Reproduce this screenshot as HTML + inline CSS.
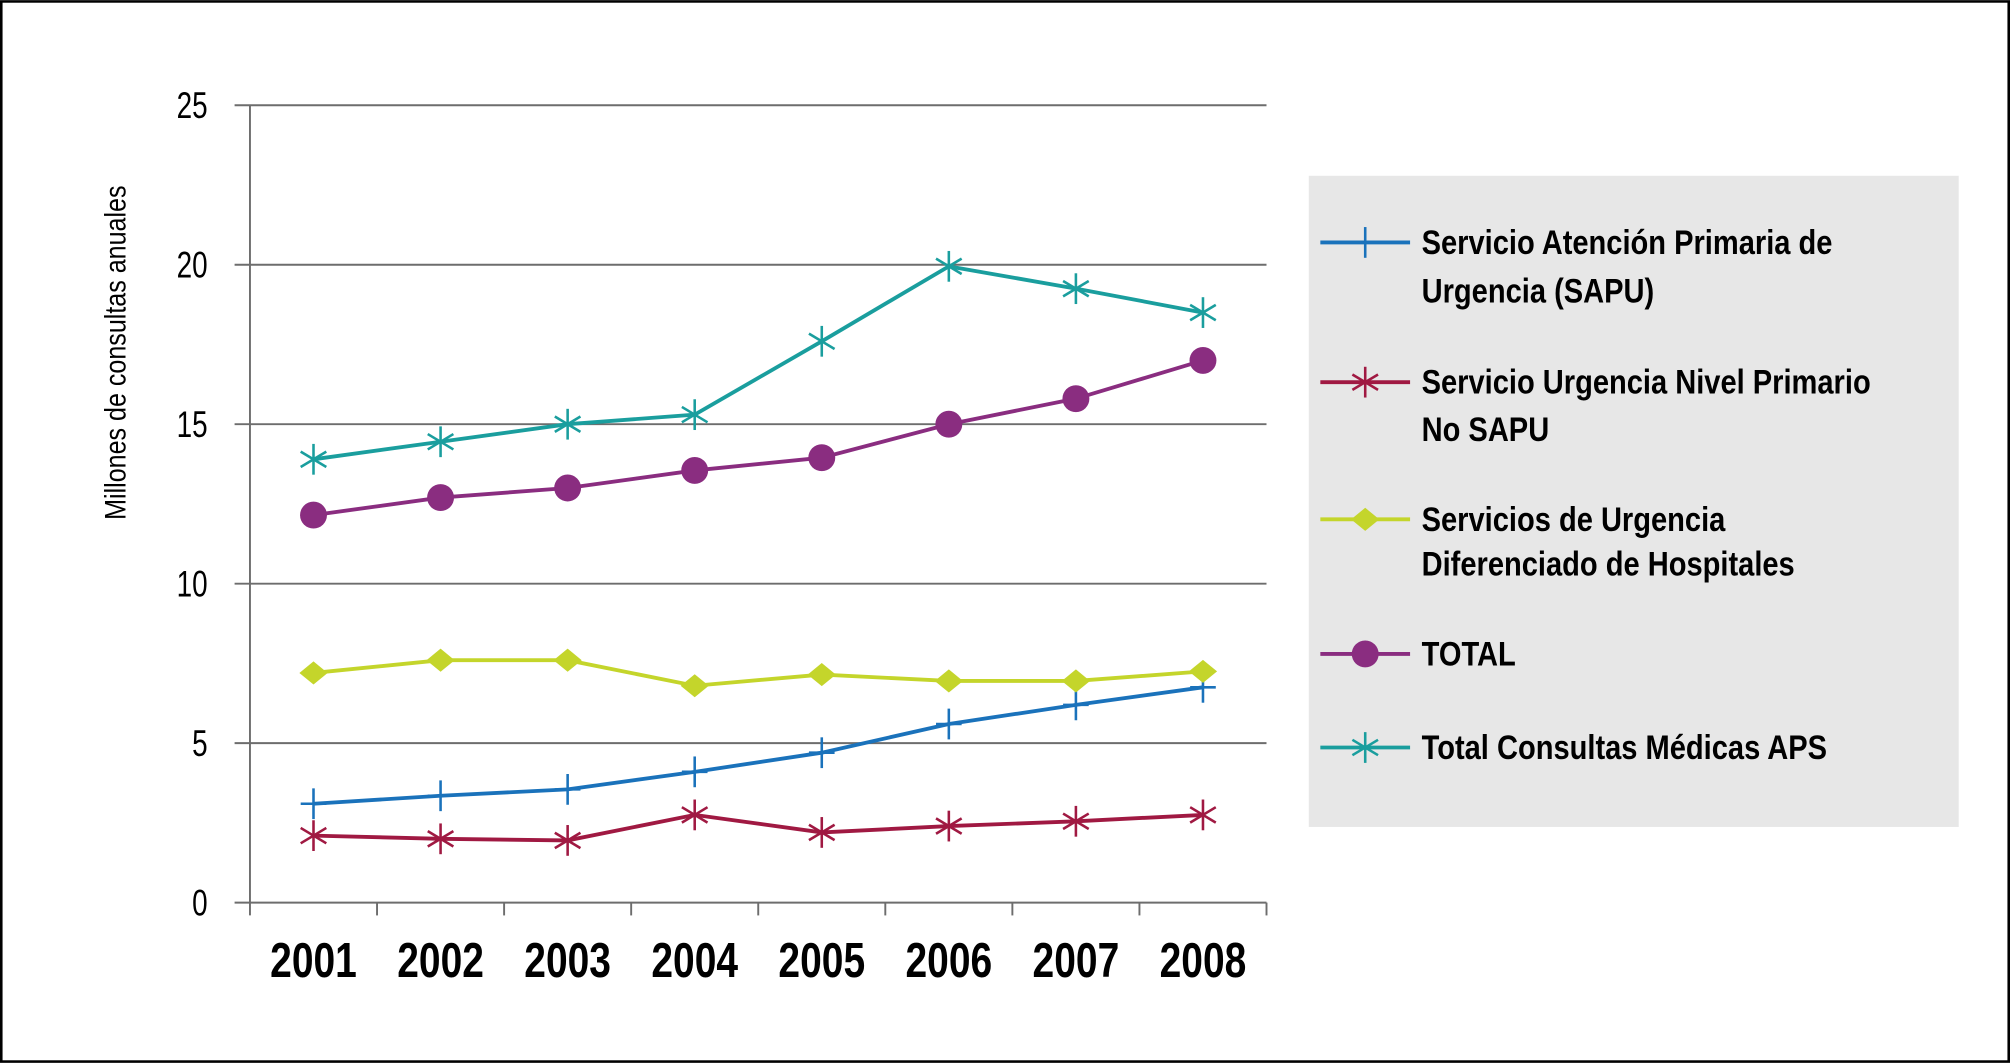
<!DOCTYPE html>
<html><head><meta charset="utf-8"><style>
html,body{margin:0;padding:0;background:#fff;}
svg{display:block;}
text{font-family:"Liberation Sans",sans-serif;}
</style></head><body>
<svg id="chart" width="2010" height="1063" viewBox="0 0 1568 829">
<rect x="1" y="1" width="1566" height="827" fill="#fff" stroke="#000" stroke-width="2"/>
<g id="grid"></g>
<g id="axes"></g>
<g id="series"></g>
<text transform="translate(98,275) rotate(-90) scale(0.85,1)" text-anchor="middle" font-size="23" fill="#000">Millones de consultas anuales</text>
<g id="legend"></g>
</svg>
<script>
const categories = ["2001","2002","2003","2004","2005","2006","2007","2008"];
const yTicks = [0,5,10,15,20,25];
const seriesNames = ["Servicio Atención Primaria de|Urgencia (SAPU)","Servicio Urgencia Nivel Primario|No SAPU","Servicios de Urgencia|Diferenciado de Hospitales","TOTAL","Total Consultas Médicas APS"];
const sapu = [3.1,3.35,3.55,4.1,4.7,5.6,6.2,6.75];
const noSapu = [2.1,2.0,1.95,2.75,2.2,2.4,2.55,2.75];
const hospitales = [7.2,7.6,7.6,6.8,7.15,6.95,6.95,7.25];
const total = [12.15,12.7,13.0,13.55,13.95,15.0,15.8,17.0];
const aps = [13.9,14.45,15.0,15.3,17.6,19.95,19.25,18.5];

const NS="http://www.w3.org/2000/svg";
const L=195,R=988,T=82,B=704,yMax=25;
const step=(R-L)/categories.length;
const x=i=>L+step*(i+0.5);
const y=v=>B-(v/yMax)*(B-T);
function mk(tag,attrs,parent){const e=document.createElementNS(NS,tag);for(const k in attrs)e.setAttribute(k,attrs[k]);parent.appendChild(e);return e;}
const grid=document.getElementById('grid'),axes=document.getElementById('axes'),ser=document.getElementById('series'),leg=document.getElementById('legend');

yTicks.forEach(t=>{
  const ln=mk('line',{x1:183,x2:R,y1:y(t),y2:y(t),stroke:'#6d6d6d','stroke-width':1.5},grid);
  
  
  const tx=mk('text',{transform:`translate(162,${y(t)+10}) scale(0.75,1)`,'text-anchor':'end','font-size':29},axes);
  tx.textContent=t;
  
  
});
const ax=mk('line',{x1:L,x2:L,y1:T,y2:B+10,stroke:'#6d6d6d','stroke-width':1.5},axes);


for(let i=1;i<=categories.length;i++){
  const tk=mk('line',{x1:L+step*i,x2:L+step*i,y1:B,y2:B+10,stroke:'#6d6d6d','stroke-width':1.5},axes);
  
  
}
categories.forEach((c,i)=>{
  const tx=mk('text',{transform:`translate(${x(i)},762) scale(0.8,1)`,'text-anchor':'middle','font-size':38,'font-weight':'bold'},axes);
  tx.textContent=c;
  
  
});

function marker(type,cx,cy,color,g){
  if(type==='plus'){
    mk('line',{x1:cx-10,x2:cx+10,y1:cy,y2:cy,stroke:color,'stroke-width':2},g);
    mk('line',{x1:cx,x2:cx,y1:cy-12,y2:cy+12,stroke:color,'stroke-width':2},g);
  }else if(type==='star'){
    mk('line',{x1:cx,x2:cx,y1:cy-12,y2:cy+12,stroke:color,'stroke-width':2},g);
    mk('line',{x1:cx-10,x2:cx+10,y1:cy-6,y2:cy+6,stroke:color,'stroke-width':2},g);
    mk('line',{x1:cx-10,x2:cx+10,y1:cy+6,y2:cy-6,stroke:color,'stroke-width':2},g);
  }else if(type==='diamond'){
    mk('polygon',{points:`${cx},${cy-9} ${cx+11},${cy} ${cx},${cy+9} ${cx-11},${cy}`,fill:color},g);
  }else if(type==='circle'){
    mk('circle',{cx:cx,cy:cy,r:10.5,fill:color},g);
  }
}
const defs=[[sapu,'#1a72bb','plus','series-sapu'],[noSapu,'#a01942','star','series-no-sapu'],[hospitales,'#c4d52b','diamond','series-hospitales'],[total,'#8a2d80','circle','series-total'],[aps,'#1a9e9e','star','series-aps']];
defs.forEach(([vals,col,m,name])=>{
  const g=mk('g',{},ser);
  
  
  const pl=mk('polyline',{points:vals.map((v,i)=>x(i)+','+y(v)).join(' '),fill:'none',stroke:col,'stroke-width':3},g);
  
  
  vals.forEach((v,i)=>marker(m,x(i),y(v),col,g));
});

mk('rect',{x:1021,y:137,width:507,height:508,fill:'#e7e7e7'},leg);
const ly=[[189,227],[298,335],[405,440],[510],[583]];
defs.forEach(([vals,col,m,name],k)=>{
  const g=mk('g',{},leg);
  
  
  const cy=ly[k][0];
  mk('line',{x1:1030,x2:1100,y1:cy,y2:cy,stroke:col,'stroke-width':3},g);
  marker(m,1065,cy,col,g);
  seriesNames[k].split('|').forEach((s,j)=>{
    const t=mk('text',{transform:`translate(1109,${ly[k][j]+9}) scale(0.84,1)`,'font-size':27,'font-weight':'bold'},g);
    t.textContent=s;
  });
});
</script>
</body></html>
